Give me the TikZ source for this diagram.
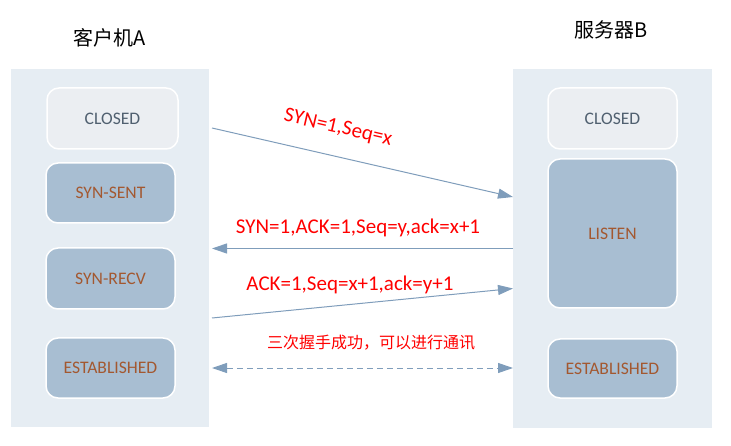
\documentclass[tikz,border=0pt]{standalone}
\usepackage{fontspec}
\setmainfont{Carlito}
\newfontfamily\cjk{Noto Sans CJK SC}
\usetikzlibrary{arrows.meta}
\definecolor{panelc}{RGB}{230,237,243}
\definecolor{closedc}{RGB}{235,238,242}
\definecolor{statec}{RGB}{168,190,210}
\definecolor{statetxt}{RGB}{163,88,48}
\definecolor{closedtxt}{RGB}{80,96,112}
\definecolor{arrowc}{RGB}{127,157,187}
\definecolor{lblred}{RGB}{255,0,0}
\tikzset{
  panel/.style={fill=panelc, draw=none, inner sep=0pt},
  basebox/.style={rounded corners=12pt, draw=white, line width=1.5pt, inner sep=0pt,
    font=\fontsize{17.6}{20}\selectfont},
  closedbox/.style={basebox, fill=closedc, text=closedtxt},
  statebox/.style={basebox, fill=statec, text=statetxt},
  msg/.style={draw=arrowc, line width=1pt, -{Triangle[length=15pt,width=10pt]}},
  lbl/.style={text=lblred, font=\fontsize{21}{24}\selectfont, inner sep=0pt},
  title/.style={font=\cjk\fontsize{20}{24}\selectfont, inner sep=0pt}
}
\begin{document}
\begin{tikzpicture}[x=1pt,y=-1pt]
\useasboundingbox (0,0) rectangle (731,446);
% panels
\node[panel, minimum width=198pt, minimum height=358pt] (lp) at (110,248) {};
\node[panel, minimum width=199pt, minimum height=359pt] (rp) at (612.5,248.5) {};
% titles
\node[title] (ta) at (110,38) {客户机A};
\node[title] (tb) at (611,30) {服务器B};
% client states
\node[closedbox, minimum width=131pt, minimum height=61pt] (ac) at (112.5,118.5) {CLOSED};
\node[statebox, minimum width=129pt, minimum height=60pt] (as) at (110.5,193) {SYN-SENT};
\node[statebox, minimum width=129pt, minimum height=61pt] (ar) at (110.5,278.5) {SYN-RECV};
\node[statebox, minimum width=129pt, minimum height=60pt] (ae) at (110.5,368) {ESTABLISHED};
% server states
\node[closedbox, minimum width=129pt, minimum height=61pt] (bc) at (612.5,118.5) {CLOSED};
\node[statebox, minimum width=129pt, minimum height=149pt] (bl) at (612.5,233.5) {LISTEN};
\node[statebox, minimum width=129pt, minimum height=59pt] (be) at (612.5,368.5) {ESTABLISHED};
% connector ends
\coordinate (m1s) at (212,128);
\coordinate (m1e) at (513,197);
\coordinate (m2s) at (513,248.5);
\coordinate (m2e) at (212,248.5);
\coordinate (m3s) at (212,318);
\coordinate (m3e) at (513,288.5);
\coordinate (m4s) at (212,368);
\coordinate (m4e) at (513,368);
% messages
\draw[msg] (m1s) -- (m1e);
\draw[msg] (m2s) -- (m2e);
\draw[msg] (m3s) -- (m3e);
\draw[draw=arrowc, line width=1pt, dashed, dash pattern=on 6pt off 4pt,
  {Triangle[length=15pt,width=10pt]}-{Triangle[length=15pt,width=10pt]}] (m4s) -- (m4e);
% labels
\node[lbl, rotate=-13] (l1) at (338,128) {SYN=1,Seq=x};
\node[lbl] (l2) at (358,228) {SYN=1,ACK=1,Seq=y,ack=x+1};
\node[lbl] (l3) at (350,285) {ACK=1,Seq=x+1,ack=y+1};
\node[lbl, font=\cjk\fontsize{16}{18}\selectfont] (l4) at (371,343) {三次握手成功，可以进行通讯};
\end{tikzpicture}
\end{document}
